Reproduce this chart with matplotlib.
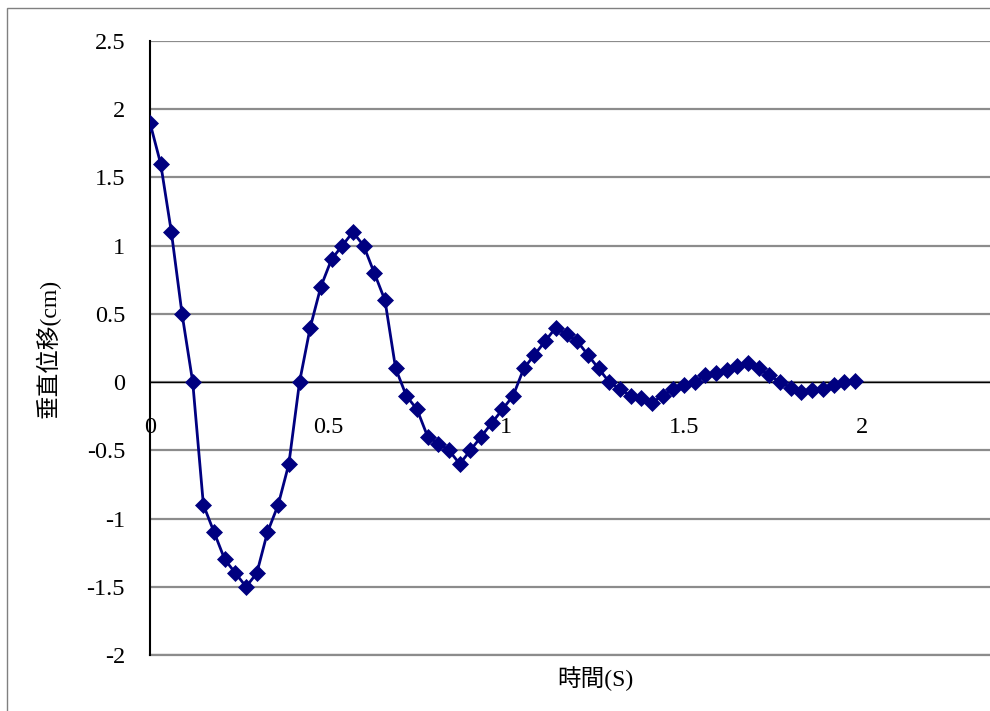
import matplotlib.pyplot as plt
from matplotlib.patches import Rectangle

plt.rcParams['font.family'] = ['Liberation Serif', 'Noto Sans CJK TC']
plt.rcParams['axes.unicode_minus'] = False

# 時間 (s) 與垂直位移 (cm)
times = [0.00, 0.03, 0.06, 0.09, 0.12, 0.15, 0.18, 0.21, 0.24, 0.27,
         0.30, 0.33, 0.36, 0.39, 0.42, 0.45, 0.48, 0.51, 0.54, 0.57,
         0.60, 0.63, 0.66, 0.69, 0.72, 0.75, 0.78, 0.81, 0.84, 0.87,
         0.90, 0.93, 0.96, 0.99, 1.02, 1.05, 1.08, 1.11, 1.14, 1.17,
         1.20, 1.23, 1.26, 1.29, 1.32, 1.35, 1.38, 1.41, 1.44, 1.47,
         1.50, 1.53, 1.56, 1.59, 1.62, 1.65, 1.68, 1.71, 1.74, 1.77,
         1.80, 1.83, 1.86, 1.89, 1.92, 1.95, 1.98]
disp = [1.9, 1.6, 1.1, 0.5, 0.0, -0.9, -1.1, -1.3, -1.4, -1.5,
        -1.4, -1.1, -0.9, -0.6, 0.0, 0.4, 0.7, 0.9, 1.0, 1.1,
        1.0, 0.8, 0.6, 0.1, -0.1, -0.2, -0.4, -0.45, -0.5, -0.6,
        -0.5, -0.4, -0.3, -0.2, -0.1, 0.1, 0.2, 0.3, 0.4, 0.35,
        0.3, 0.2, 0.1, 0.0, -0.05, -0.1, -0.12, -0.15, -0.1, -0.05,
        -0.02, 0.0, 0.05, 0.07, 0.09, 0.12, 0.14, 0.1, 0.05, 0.0,
        -0.04, -0.07, -0.06, -0.05, -0.02, 0.0, 0.01]

x_ticks = [0, 0.5, 1, 1.5, 2]
x_ticklabels = ['0', '0.5', '1', '1.5', '2']
y_ticks = [-2, -1.5, -1, -0.5, 0, 0.5, 1, 1.5, 2, 2.5]
y_ticklabels = ['-2', '-1.5', '-1', '-0.5', '0', '0.5', '1', '1.5', '2', '2.5']

W, H = 990, 711
fig = plt.figure(figsize=(W / 100, H / 100), dpi=100)

# 外框
fig.add_artist(Rectangle((7 / W, -0.5), 2, 1.5 - 8 / H, transform=fig.transFigure,
                         fill=False, edgecolor='#808080', lw=1))

# x 軸到 2.5，右側超出畫面
ax = fig.add_axes([150 / W, 1 - 655 / H, 890 / W, 614 / H])
ax.plot(times, disp, color='#000080', lw=2, marker='D', markersize=8.5,
        markeredgewidth=0.5, zorder=3)

ax.set_xlim(0, 2.5)
ax.set_ylim(-2, 2.5)
ax.set_xticks(x_ticks)
ax.set_xticklabels(x_ticklabels)
ax.set_yticks(y_ticks)
ax.set_yticklabels(y_ticklabels)
ax.tick_params(axis='both', length=0, labelsize=17.5)
ax.tick_params(axis='x', pad=25)
ax.tick_params(axis='y', pad=18)

ax.yaxis.grid(True, color='#8c8c8c', lw=1.6)
ax.axhline(-2, color='#8c8c8c', lw=1.6, clip_on=False, zorder=0.5)
ax.set_axisbelow(True)

ax.spines['bottom'].set_position(('data', 0))
ax.spines['bottom'].set_color('black')
ax.spines['bottom'].set_linewidth(1)
ax.spines['left'].set_linewidth(1.5)
ax.spines['left'].set_zorder(2)
ax.spines['top'].set_visible(False)
ax.spines['right'].set_visible(False)

ax.set_xlabel('時間(S)', fontsize=17, va='center')
ax.xaxis.set_label_coords(0.5, -24 / 614)
ax.set_ylabel('垂直位移(cm)', fontsize=17, va='center')
ax.yaxis.set_label_coords(-102 / 890, 0.5)

fig.savefig('out.png', dpi=100)
